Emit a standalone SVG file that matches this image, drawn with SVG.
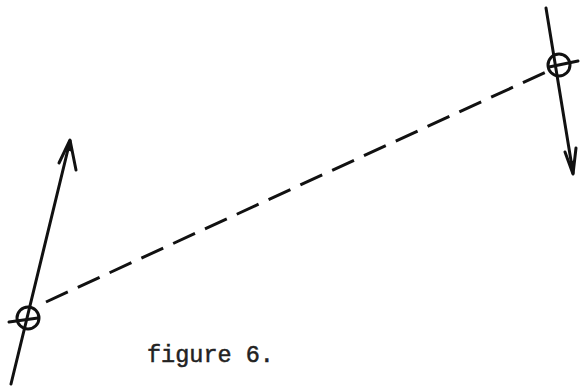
<svg xmlns="http://www.w3.org/2000/svg" width="582" height="389" viewBox="0 0 582 389">
<style>
.ln{stroke:#111;stroke-width:3;fill:none;stroke-linecap:round;stroke-linejoin:round}
.dash{stroke:#111;stroke-width:3;fill:none;stroke-dasharray:24 11}
.lbl{font-family:"Liberation Mono",monospace;font-size:23.5px;fill:#222;stroke:#222;stroke-width:0.5}
</style>
<g id="connectors">
<line class="dash" x1="46" y1="302" x2="546" y2="72"/>
</g>
<g id="node-left">
<line class="ln" x1="11" y1="384" x2="70" y2="141"/>
<path class="ln" d="M59,163 L70,140 L76,170"/>
<path d="M66,150 L70,140 L73,152 Z" fill="#111"/>
<circle class="ln" cx="28" cy="318" r="11"/>
<line class="ln" x1="9" y1="322" x2="38" y2="318"/>
</g>
<g id="node-right">
<line class="ln" x1="546" y1="8" x2="573" y2="173"/>
<path class="ln" d="M565,152 L573,174 L576,148"/>
<path d="M569,162 L573,174 L575,160 Z" fill="#111"/>
<circle class="ln" cx="559" cy="65" r="11"/>
<line class="ln" x1="549" y1="67" x2="578" y2="61"/>
</g>
<g id="caption">
<text class="lbl" x="147" y="362">figure 6.</text>
</g>
</svg>
